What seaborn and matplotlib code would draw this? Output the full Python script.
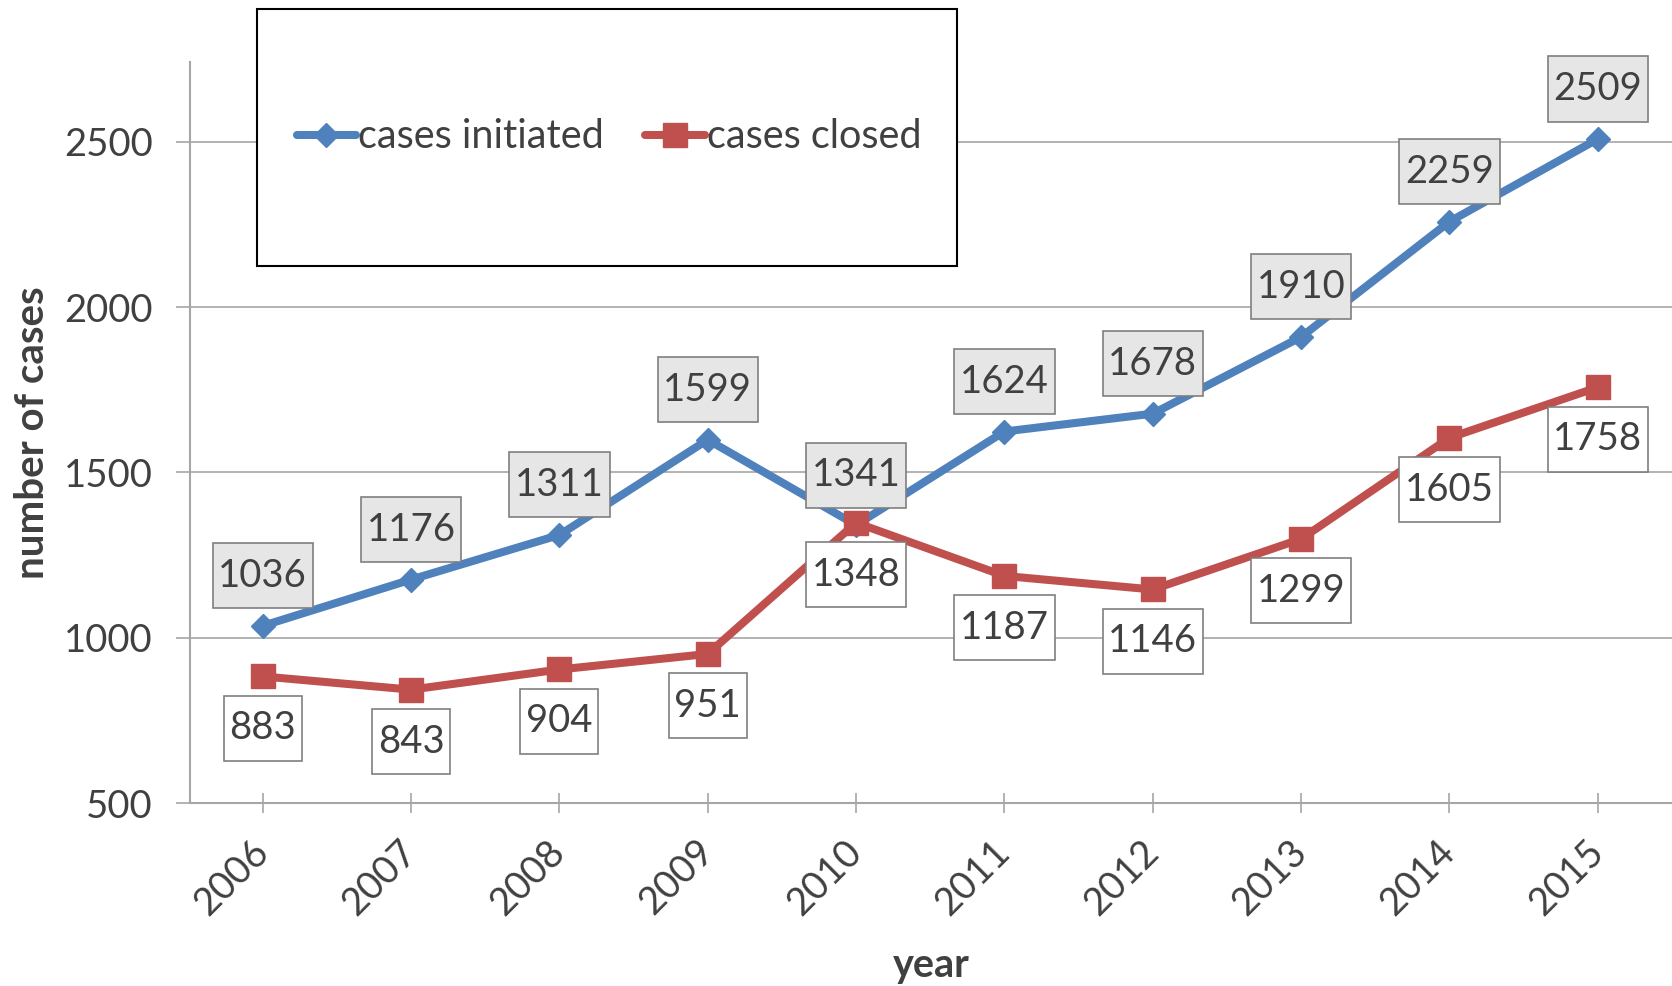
import matplotlib
matplotlib.use("Agg")
import matplotlib.pyplot as plt
import pandas as pd
import seaborn as sns
from matplotlib.patches import Rectangle
from matplotlib.lines import Line2D
from matplotlib.path import Path

# Data
years = [2006, 2007, 2008, 2009, 2010, 2011, 2012, 2013, 2014, 2015]
cases_initiated = [1036, 1176, 1311, 1599, 1341, 1624, 1678, 1910, 2259, 2509]
cases_closed = [883, 843, 904, 951, 1348, 1187, 1146, 1299, 1605, 1758]
y_ticks = [500, 1000, 1500, 2000, 2500]

blue = '#4F81BD'
red = '#C0504D'
text_col = '#404040'
grid_col = '#A6A6A6'
fs = 27.5

sns.set_theme(style='white')
plt.rcParams['font.family'] = ['Lato', 'DejaVu Sans']
plt.rcParams['text.color'] = text_col

df = pd.DataFrame({'year': years,
                   'cases initiated': cases_initiated,
                   'cases closed': cases_closed})


def label_box(x0, y0, width, height, mutation_size):
    # rectangle with less padding at the sides than at top/bottom
    px = 0.15 * mutation_size
    py = 0.38 * mutation_size
    return Path([(x0 - px, y0 - py), (x0 + width + px, y0 - py),
                 (x0 + width + px, y0 + height + py),
                 (x0 - px, y0 + height + py), (x0 - px, y0 - py)],
                closed=True)


fig = plt.figure(figsize=(16.72, 9.86), dpi=100)
ax = fig.add_axes([190 / 1672, 1 - 803 / 986, 1 - 190 / 1672, (803 - 62) / 986])

sns.lineplot(data=df, x='year', y='cases initiated', ax=ax, color=blue,
             linewidth=5.8, marker='D', markersize=12, markeredgewidth=1,
             markeredgecolor=blue, zorder=3)
sns.lineplot(data=df, x='year', y='cases closed', ax=ax, color=red,
             linewidth=5.8, marker='s', markersize=17, markeredgewidth=1,
             markeredgecolor=red, zorder=3)

ax.set_xlim(years[0] - 0.49, years[-1] + 0.5)
ax.set_ylim(500, 2742)
ax.set_xticks(years)
ax.set_xticklabels([str(y) for y in years], rotation=45, ha='right',
                   va='center', rotation_mode='anchor')
ax.set_yticks(y_ticks)
ax.yaxis.grid(True, color=grid_col, linewidth=1.2)
ax.xaxis.grid(False)
ax.set_axisbelow(True)

for s in ['top', 'right']:
    ax.spines[s].set_visible(False)
for s in ['left', 'bottom']:
    ax.spines[s].set_color(grid_col)
    ax.spines[s].set_linewidth(1.5)

ax.tick_params(axis='x', direction='inout', length=14, width=1.2,
               color=grid_col, labelsize=fs, labelcolor=text_col, pad=24,
               bottom=True)
ax.tick_params(axis='y', direction='out', length=10, width=1.2,
               color=grid_col, labelsize=fs, labelcolor=text_col, pad=17,
               left=True)

ax.set_xlabel('year', fontsize=28.5, fontweight='bold', color=text_col)
ax.set_ylabel('number of cases', fontsize=29, fontweight='bold', color=text_col)
ax.xaxis.set_label_coords(0.5, -0.219)
ax.xaxis.label.set_va('center')
ax.yaxis.set_label_coords(-0.1066, 0.5)
ax.yaxis.label.set_va('center')

# data labels
for x, v in zip(years, cases_initiated):
    ax.annotate(str(v), (x, v), xytext=(0, 50), textcoords='offset pixels',
                ha='center', va='center', fontsize=fs, color=text_col,
                bbox=dict(boxstyle=label_box, fc='#E6E6E6',
                          ec='#7F7F7F', lw=1.2), zorder=5)
for x, v in zip(years, cases_closed):
    ax.annotate(str(v), (x, v), xytext=(0, -52), textcoords='offset pixels',
                ha='center', va='center', fontsize=fs, color=text_col,
                bbox=dict(boxstyle=label_box, fc='white',
                          ec='#7F7F7F', lw=1.2), zorder=5)

# legend box
fig.add_artist(Rectangle((257 / 1672, 1 - 266 / 986), 700 / 1672, 257 / 986,
                         transform=fig.transFigure, fc='white', ec='black',
                         lw=1.5, zorder=4))
handles = [Line2D([], [], color=blue, lw=5.8, marker='D', markersize=12),
           Line2D([], [], color=red, lw=5.8, marker='s', markersize=17)]
leg = fig.legend(handles, ['cases initiated', 'cases closed'], ncol=2,
                 loc='center', bbox_to_anchor=(609 / 1672, 1 - 137 / 986),
                 frameon=False, fontsize=28.5, handlelength=1.5,
                 handletextpad=0.05, columnspacing=1.05)
leg.set_zorder(6)
for t in leg.get_texts():
    t.set_color(text_col)

fig.savefig('out.png', dpi=100)
